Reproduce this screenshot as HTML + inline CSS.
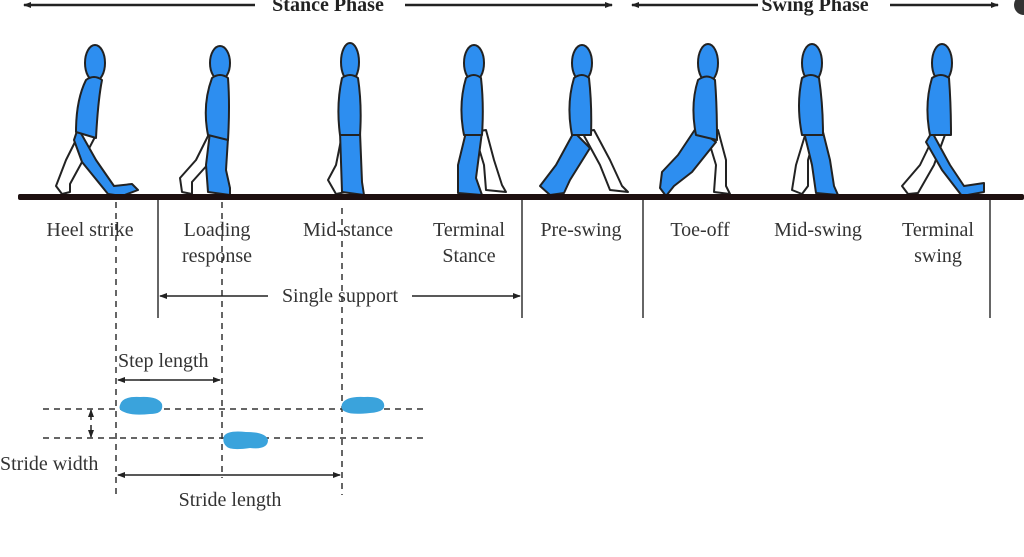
<!DOCTYPE html>
<html><head><meta charset="utf-8"><style>
html,body{margin:0;padding:0;background:#fff;}
svg{display:block;}
text{font-family:"Liberation Serif",serif;fill:#333;}
</style></head><body>
<svg width="1024" height="557" viewBox="0 0 1024 557" xmlns="http://www.w3.org/2000/svg">
<defs>
<marker id="ah" markerWidth="8" markerHeight="8" refX="7" refY="4" orient="auto" markerUnits="userSpaceOnUse"><path d="M0,1 L8,4 L0,7 z" fill="#222"/></marker>
</defs>
<!-- top phase arrows -->
<line x1="255" y1="5" x2="24" y2="5" stroke="#222" stroke-width="2.5" marker-end="url(#ah)"/>
<line x1="405" y1="5" x2="612" y2="5" stroke="#222" stroke-width="2.5" marker-end="url(#ah)"/>
<text x="328" y="11" font-size="20" font-weight="bold" text-anchor="middle" style="fill:#222">Stance Phase</text>
<line x1="758" y1="5" x2="632" y2="5" stroke="#222" stroke-width="2.5" marker-end="url(#ah)"/>
<line x1="890" y1="5" x2="998" y2="5" stroke="#222" stroke-width="2.5" marker-end="url(#ah)"/>
<text x="815" y="11" font-size="20" font-weight="bold" text-anchor="middle" style="fill:#222">Swing Phase</text>
<circle cx="1024" cy="5" r="10" fill="#333"/>

<g stroke="#222" stroke-width="2" stroke-linejoin="round" fill="#2d8ef0">
<!-- 1 heel strike -->
<g transform="translate(92,0)">
<path d="M-10,128 L-26,160 L-36,186 L-30,194 L-22,192 L-22,184 L-10,162 L4,135 Z" fill="#fff"/>
<path d="M-14,128 L4,160 L22,186 L40,184 L46,190 L30,196 L16,194 L-10,162 L-18,140 Z"/>
<ellipse cx="3" cy="63" rx="10" ry="18"/>
<path d="M-6,80 Q-16,100 -16,132 L4,138 Q6,100 10,80 Q2,74 -6,80 Z"/>
</g>
<!-- 2 loading response -->
<g transform="translate(218,0)">
<path d="M-8,132 L-22,160 L-38,178 L-36,192 L-26,194 L-26,182 L-8,162 L6,138 Z" fill="#fff"/>
<path d="M-8,132 L-12,165 L-10,192 L12,195 L12,188 L8,170 L10,138 Z"/>
<ellipse cx="2" cy="63" rx="10" ry="17"/>
<path d="M-6,78 Q-16,105 -10,135 L10,140 Q12,105 10,78 Q2,72 -6,78 Z"/>
</g>
<!-- 3 midstance -->
<g transform="translate(350,0)">
<path d="M-8,135 L-14,165 L-22,180 L-14,194 L-4,192 L-8,178 L2,150 Z" fill="#fff"/>
<path d="M-10,132 L-8,192 L14,195 L12,182 L10,132 Z"/>
<ellipse cx="0" cy="62" rx="9" ry="19"/>
<path d="M-8,78 Q-14,105 -10,135 L10,135 Q12,105 8,78 Q0,72 -8,78 Z"/>
</g>
<!-- 4 terminal stance -->
<g transform="translate(472,0)">
<path d="M2,132 L12,165 L14,190 L34,192 L30,185 L22,160 L14,130 Z" fill="#fff"/>
<path d="M-6,132 L-14,165 L-14,193 L10,195 L4,178 L10,132 Z"/>
<ellipse cx="2" cy="63" rx="10" ry="18"/>
<path d="M-6,78 Q-14,105 -8,135 L10,135 Q12,105 9,78 Q2,72 -6,78 Z"/>
</g>
<!-- 5 pre-swing -->
<g transform="translate(580,0)">
<path d="M2,132 L20,165 L30,190 L48,192 L42,186 L30,160 L14,130 Z" fill="#fff"/>
<path d="M-6,132 L-24,165 L-40,186 L-30,195 L-16,193 L-10,180 L10,148 Z"/>
<ellipse cx="2" cy="63" rx="10" ry="18"/>
<path d="M-6,78 Q-14,105 -8,135 L11,135 Q12,105 9,78 Q2,72 -6,78 Z"/>
</g>
<!-- 6 toe-off -->
<g transform="translate(704,0)">
<path d="M2,132 L12,165 L10,192 L26,194 L22,186 L22,160 L14,130 Z" fill="#fff"/>
<path d="M-8,128 L-26,155 L-42,172 L-44,188 L-38,196 L-30,186 L-12,172 L12,142 Z"/>
<ellipse cx="4" cy="63" rx="10" ry="19"/>
<path d="M-6,80 Q-14,105 -8,135 L13,140 Q13,105 11,80 Q3,73 -6,80 Z"/>
</g>
<!-- 7 mid-swing -->
<g transform="translate(810,0)">
<path d="M-4,132 L-14,165 L-18,190 L-8,194 L-2,186 L-2,160 L6,132 Z" fill="#fff"/>
<path d="M-6,132 L2,165 L6,193 L28,195 L24,186 L20,160 L13,132 Z"/>
<ellipse cx="2" cy="63" rx="10" ry="19"/>
<path d="M-8,78 Q-14,105 -8,135 L13,135 Q13,105 9,78 Q1,72 -8,78 Z"/>
</g>
<!-- 8 terminal swing -->
<g transform="translate(938,0)">
<path d="M-2,132 L-18,165 L-36,186 L-30,194 L-20,193 L-4,165 L8,132 Z" fill="#fff"/>
<path d="M-6,132 L12,165 L26,186 L46,183 L46,192 L24,196 L4,170 L-12,142 Z"/>
<ellipse cx="4" cy="63" rx="10" ry="19"/>
<path d="M-6,78 Q-14,105 -8,135 L13,135 Q13,105 11,78 Q3,72 -6,78 Z"/>
</g>
</g>

<!-- ground -->
<rect x="18" y="194" width="1006" height="6" fill="#1e1010" rx="2"/>

<g stroke="#333" stroke-width="1.5">
<line x1="158" y1="200" x2="158" y2="318"/>
<line x1="522" y1="200" x2="522" y2="318"/>
<line x1="643" y1="200" x2="643" y2="318"/>
<line x1="990" y1="200" x2="990" y2="318"/>
</g>
<g stroke="#333" stroke-width="1.5" stroke-dasharray="6,5">
<line x1="116" y1="202" x2="116" y2="495"/>
<line x1="222" y1="202" x2="222" y2="478"/>
<line x1="342" y1="208" x2="342" y2="495"/>
<line x1="43" y1="409" x2="423" y2="409"/>
<line x1="43" y1="438" x2="423" y2="438"/>
</g>

<g font-size="20" text-anchor="middle">
<text x="90" y="236">Heel strike</text>
<text x="217" y="236">Loading</text>
<text x="217" y="262">response</text>
<text x="348" y="236">Mid-stance</text>
<text x="469" y="236">Terminal</text>
<text x="469" y="262">Stance</text>
<text x="581" y="236">Pre-swing</text>
<text x="700" y="236">Toe-off</text>
<text x="818" y="236">Mid-swing</text>
<text x="938" y="236">Terminal</text>
<text x="938" y="262">swing</text>
<text x="340" y="302">Single support</text>
<text x="230" y="506">Stride length</text>
</g>
<line x1="268" y1="296" x2="160" y2="296" stroke="#222" stroke-width="1.5" marker-end="url(#ah)"/>
<line x1="412" y1="296" x2="520" y2="296" stroke="#222" stroke-width="1.5" marker-end="url(#ah)"/>

<text x="118" y="367" font-size="20">Step length</text>
<line x1="150" y1="380" x2="118" y2="380" stroke="#222" stroke-width="1.5" marker-end="url(#ah)"/>
<line x1="140" y1="380" x2="220" y2="380" stroke="#222" stroke-width="1.5" marker-end="url(#ah)"/>
<line x1="91" y1="420" x2="91" y2="410" stroke="#222" stroke-width="1.5" marker-end="url(#ah)"/>
<line x1="91" y1="425" x2="91" y2="437" stroke="#222" stroke-width="1.5" marker-end="url(#ah)"/>
<text x="0" y="470" font-size="20">Stride width</text>
<line x1="200" y1="475" x2="118" y2="475" stroke="#222" stroke-width="1.5" marker-end="url(#ah)"/>
<line x1="180" y1="475" x2="340" y2="475" stroke="#222" stroke-width="1.5" marker-end="url(#ah)"/>

<g fill="#3aa3dc">
<path d="M120,405 Q122,396 140,397 Q158,396 162,404 Q164,414 150,414 Q132,416 124,412 Q118,410 120,405 Z"/>
<path d="M224,436 Q228,430 246,432 Q266,432 268,440 Q268,450 250,448 Q230,451 226,446 Q222,442 224,436 Z"/>
<path d="M342,404 Q346,396 364,397 Q382,396 384,404 Q386,412 370,413 Q352,415 346,412 Q340,410 342,404 Z"/>
</g>
</svg>
</body></html>
